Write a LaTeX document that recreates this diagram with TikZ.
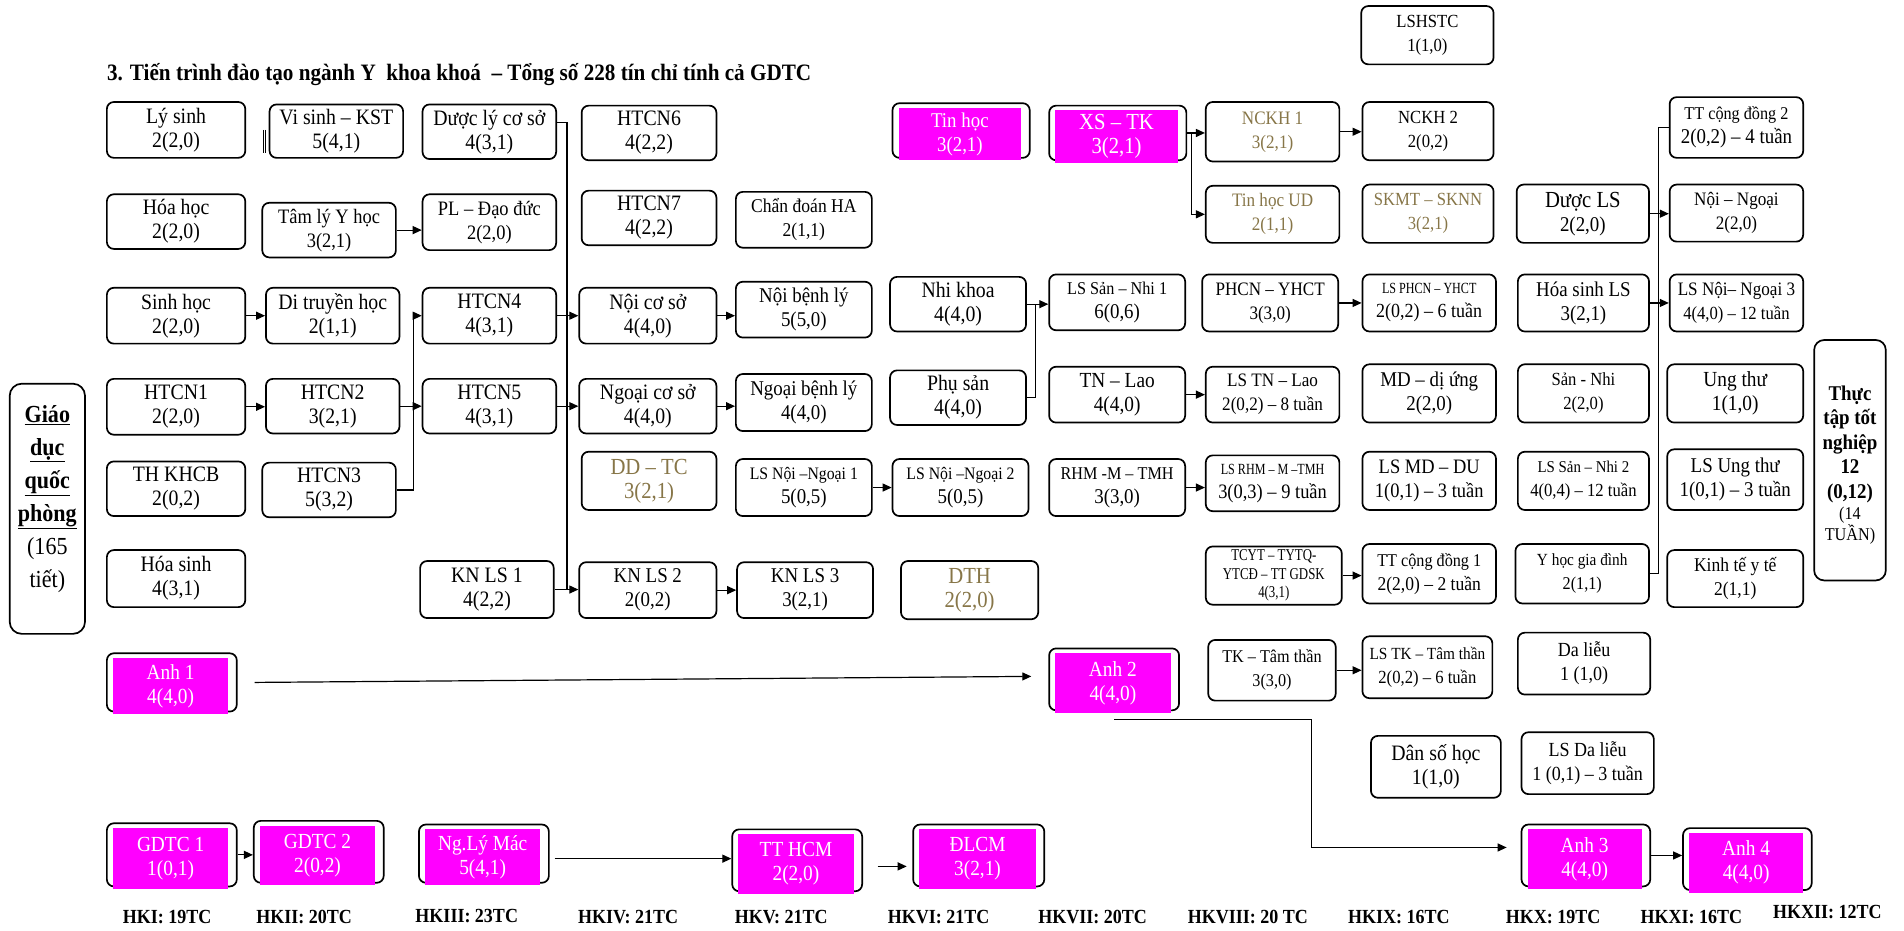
\documentclass[tikz,border=0pt]{standalone}
\usepackage{fontspec}
\setmainfont{Liberation Serif}[FakeStretch=0.9]
\newfontfamily\nf{Liberation Serif}[FakeStretch=0.78]
\usetikzlibrary{arrows.meta,calc}
\definecolor{mag}{RGB}{255,0,255}
\definecolor{olv}{RGB}{135,118,72}
\newcommand\fz[1]{\fontsize{#1}{#1}\selectfont}
\newcommand\bx[7][]{\node[box,#1,minimum width={(#5-#3)*1.2143pt},minimum height={(#6-#4)*1.2143pt}] (#2) at ({(#3+#5)/2},{(#4+#6)/2}) {#7};}
\newcommand\mbx[7][]{%
  \node[box,minimum width={(#5-#3)*1.2143pt},minimum height={(#6-#4)*1.2143pt}] (#2) at ({(#3+#5)/2},{(#4+#6)/2}) {};
  \fill[mag] (#3+5,#4+4) rectangle (#5-7,#6+2);
  \node[mtxt,#1] (#2t) at ({(#3+#5-2)/2},{(#4+#6+6)/2}) {#7};}
\begin{document}
\begin{tikzpicture}[x=1.2143pt,y=-1.2143pt,
  box/.style={draw, line width=1.7pt, rounded corners=7pt, inner sep=0pt, align=center, font=\fontsize{22}{24}\selectfont},
  fs/.style={font=\fontsize{#1}{24}\selectfont},
  mtxt/.style={inner sep=0pt, align=center, text=white, font=\fontsize{21.5}{24}\selectfont},
  arr/.style={line width=1.2pt, -{Triangle[length=9pt,width=8pt]}},
  ln/.style={line width=1.2pt},
  hk/.style={font=\bfseries\fontsize{20}{22}\selectfont, inner sep=0pt, anchor=west},
]
\fill[white] (0,0) rectangle (1568,766);
\useasboundingbox (0,0) rectangle (1568,766);

\node[anchor=west, inner sep=0pt, font=\bfseries\fontsize{23.5}{26}\selectfont] (title) at (88,61)
  {3. Tiến trình đào tạo ngành Y\ \ khoa khoá\ \ – Tổng số 228 tín chỉ tính cả GDTC};

% column 1
\bx{lysinh}{88}{84}{202}{130}{Lý sinh\\2(2,0)}
\bx{hoahoc}{88}{160}{202}{205}{Hóa học\\2(2,0)}
\bx{sinhhoc}{88}{237}{202}{283}{Sinh học\\2(2,0)}
\bx{htcn1}{88}{312}{202}{358}{HTCN1\\2(2,0)}
\bx{thkhcb}{88}{380}{202}{425}{TH KHCB\\2(0,2)}
\bx{hoasinh}{88}{453}{202}{500}{Hóa sinh\\4(3,1)}
\mbx{anh1}{88}{538}{195}{586}{Anh 1\\4(4,0)}
\mbx{gdtc1}{88}{678}{195}{730}{GDTC 1\\1(0,1)}

\node[box, rounded corners=12pt, minimum width={62*1.2143pt}, minimum height={206*1.2143pt}] (gdqp) at (39,419) {};
\node[inner sep=0pt, align=center, font=\bfseries\fontsize{24.5}{33}\selectfont] (gdqpt) at (39,411)
  {\underline{Giáo}\\\underline{dục}\\\underline{quốc}\\\underline{phòng}\\{\mdseries(165}\\{\mdseries tiết)}};

% column 2
\draw[line width=0.8pt] (216.8,107) -- (216.8,126);
\draw[line width=0.8pt] (218.6,107) -- (218.6,126);
\bx{visinh}{222}{86}{332}{130}{Vi sinh – KST\\5(4,1)}
\bx[fs=20.5]{tamly}{216}{167}{326}{212}{Tâm lý Y học\\3(2,1)}
\bx{ditruyen}{219}{237}{329}{283}{Di truyền học\\2(1,1)}
\bx{htcn2}{219}{312}{329}{357}{HTCN2\\3(2,1)}
\bx{htcn3}{216}{381}{326}{426}{HTCN3\\5(3,2)}
\mbx{gdtc2}{209}{676}{316}{727}{GDTC 2\\2(0,2)}

% column 3
\bx{dlcs}{348}{86}{458}{131}{Dược lý cơ sở\\4(3,1)}
\bx[fs=20.5]{pldd}{348}{160}{458}{206}{PL – Đạo đức\\2(2,0)}
\bx{htcn4}{348}{237}{458}{283}{HTCN4\\4(3,1)}
\bx{htcn5}{348}{312}{458}{357}{HTCN5\\4(3,1)}
\bx{knls1}{346}{462}{456}{509}{KN LS 1\\4(2,2)}
\mbx{nglymac}{345}{679}{452}{727}{Ng.Lý Mác\\5(4,1)}

% column 4
\bx{htcn6}{479}{87}{590}{132}{HTCN6\\4(2,2)}
\bx{htcn7}{479}{157}{590}{202}{HTCN7\\4(2,2)}
\bx{noics}{477}{237}{590}{283}{Nội cơ sở\\4(4,0)}
\bx{ngoaics}{477}{312}{590}{357}{Ngoại cơ sở\\4(4,0)}
\bx[text=olv,fs=23]{ddtc}{479}{372}{590}{420}{DD – TC\\3(2,1)}
\bx[fs=21]{knls2}{477}{463}{590}{509}{KN LS 2\\2(0,2)}

% column 5
\bx[fs=19.5]{cdha}{606}{158}{718}{204}{Chẩn đoán HA\\2(1,1)}
\bx[fs=21]{noibl}{606}{232}{718}{278}{Nội bệnh lý\\5(5,0)}
\bx[fs=21]{ngoaibl}{606}{308}{718}{355}{Ngoại bệnh lý\\4(4,0)}
\bx[fs=21]{lsnn1}{606}{378}{718}{425}{{\fz{17.5}LS Nội –Ngoại 1}\\5(0,5)}
\bx[fs=21]{knls3}{607}{463}{719}{509}{KN LS 3\\3(2,1)}
\mbx{tthcm}{603}{683}{710}{734}{TT HCM\\2(2,0)}

% column 6
\mbx[font=\fontsize{21}{24}\selectfont]{tinhoc}{735}{85}{848}{130}{Tin học\\3(2,1)}
\bx{nhikhoa}{733}{228}{845}{273}{Nhi khoa\\4(4,0)}
\bx{phusan}{733}{305}{845}{350}{Phụ sản\\4(4,0)}
\bx[fs=21]{lsnn2}{735}{378}{847}{425}{{\fz{17.5}LS Nội –Ngoại 2}\\5(0,5)}
\bx[text=olv,fs=23]{dth}{742}{462}{855}{510}{DTH\\2(2,0)}
\mbx{dlcm}{752}{679}{860}{730}{ĐLCM\\3(2,1)}

% column 7
\mbx[font=\fontsize{23}{24}\selectfont]{xstk}{864}{87}{977}{132}{XS – TK\\3(2,1)}
\bx[fs=21]{lssn1}{864}{226}{976}{272}{{\fz{18}LS Sản – Nhi 1}\\6(0,6)}
\bx[fs=21.5]{tnlao}{864}{302}{976}{348}{TN – Lao\\4(4,0)}
\bx[fs=21]{rhm}{864}{378}{976}{425}{{\fz{18}RHM -M – TMH}\\3(3,0)}
\mbx{anh2}{864}{534}{971}{585}{Anh 2\\4(4,0)}

% column 8
\bx[text=olv,fs=19]{nckh1}{993}{84}{1103}{133}{NCKH 1\\3(2,1)}
\bx[text=olv,fs=19]{thud}{993}{153}{1103}{200}{Tin học UD\\2(1,1)}
\bx[fs=19]{phcn}{990}{226}{1102}{273}{PHCN – YHCT\\3(3,0)}
\bx[fs=19]{lstnlao}{993}{302}{1103}{348}{LS TN – Lao\\2(0,2) – 8 tuần}
\bx{lsrhm}{993}{375}{1103}{421}{{\nf\fz{15.5}LS RHM – M –TMH}\\{\fz{20.5}3(0,3) – 9 tuần}}
\bx[font={\nf\fontsize{16.5}{18.5}\selectfont}]{tcyt}{993}{450}{1105}{498}{TCYT – TYTQ-\\YTCĐ – TT GDSK\\4(3,1)}
\bx[fs=18]{tktt}{995}{527}{1100}{577}{TK – Tâm thần\\3(3,0)}

% column 9
\bx[fs=18.5]{lshstc}{1121}{5}{1230}{53}{LSHSTC\\1(1,0)}
\bx[fs=18.5]{nckh2}{1122}{84}{1230}{132}{NCKH 2\\2(0,2)}
\bx[text=olv,fs=18.5]{skmt}{1122}{152}{1230}{200}{SKMT – SKNN\\3(2,1)}
\bx{lsphcn}{1122}{226}{1232}{273}{{\nf\fz{15.5}LS PHCN – YHCT}\\{\fz{20}2(0,2) – 6 tuần}}
\bx[fs=21]{mddu}{1122}{300}{1232}{348}{MD – dị ứng\\2(2,0)}
\bx[fs=20.5]{lsmddu}{1122}{372}{1232}{420}{LS MD – DU\\1(0,1) – 3 tuần}
\bx{ttcd1}{1122}{448}{1232}{497}{{\fz{18}TT cộng đồng 1}\\{\fz{19.5}2(2,0) – 2 tuần}}
\bx{lstk}{1122}{524}{1229}{575}{{\fz{17}LS TK – Tâm thần}\\{\fz{18.5}2(0,2) – 6 tuần}}
\bx{dsh}{1129}{606}{1236}{657}{Dân số học\\1(1,0)}

% column 10
\bx{duocls}{1249}{152}{1358}{200}{{\fz{23}Dược LS}\\{\fz{21}2(2,0)}}
\bx[fs=21]{hsls}{1250}{226}{1358}{273}{Hóa sinh LS\\3(2,1)}
\bx[fs=18.5]{sannhi}{1250}{300}{1358}{348}{Sản - Nhi\\2(2,0)}
\bx{lssn2}{1250}{372}{1358}{420}{{\fz{16.5}LS Sản – Nhi 2}\\{\fz{18.5}4(0,4) – 12 tuần}}
\bx{yhgd}{1248}{448}{1358}{497}{{\fz{17}Y học gia đình}\\{\fz{18}2(1,1)}}
\bx[fs=20]{dalieu}{1250}{521}{1359}{572}{Da liễu\\1 (1,0)}
\bx[fs=20]{lsdl}{1253}{603}{1362}{654}{LS Da liễu\\1 (0,1) – 3 tuần}
\mbx{anh3}{1253}{679}{1359}{730}{Anh 3\\4(4,0)}

% column 11
\bx{ttcd2}{1375}{80}{1485}{130}{{\fz{18}TT cộng đồng 2}\\{\fz{21}2(0,2) – 4 tuần}}
\bx[fs=19]{noingoai}{1375}{152}{1485}{199}{Nội – Ngoại\\2(2,0)}
\bx{lsnn3}{1375}{226}{1485}{273}{{\fz{19}LS Nội– Ngoại 3}\\{\fz{18.5}4(4,0) – 12 tuần}}
\bx[fs=21.5]{ungthu}{1373}{300}{1485}{348}{Ung thư\\1(1,0)}
\bx[fs=21]{lsut}{1373}{370}{1485}{420}{LS Ung thư\\1(0,1) – 3 tuần}
\bx[fs=19.5]{ktyt}{1373}{453}{1485}{500}{Kinh tế y tế\\2(1,1)}
\mbx{anh4}{1386}{682}{1492}{733}{Anh 4\\4(4,0)}

% column 12
\node[box, rounded corners=10pt, minimum width={59*1.2143pt}, minimum height={198*1.2143pt}] (tttn) at (1523.5,379) {};
\node[inner sep=0pt, align=center, font=\bfseries\fontsize{21}{24.5}\selectfont] (tttnt) at (1523.5,383)
  {Thực\\tập tốt\\nghiệp\\12\\(0,12)\\[-3pt]{\mdseries\fz{18}(14}\\[-4pt]{\mdseries\fz{18}TUẦN)}};

% semester labels
\node[hk] (hk1) at (101,755) {HKI: 19TC};
\node[hk] (hk2) at (211,755) {HKII: 20TC};
\node[hk] (hk3) at (342,754) {HKIII: 23TC};
\node[hk] (hk4) at (476,755) {HKIV: 21TC};
\node[hk] (hk5) at (605,755) {HKV: 21TC};
\node[hk] (hk6) at (731,755) {HKVI: 21TC};
\node[hk] (hk7) at (855,755) {HKVII: 20TC};
\node[hk] (hk8) at (978,755) {HKVIII: 20 TC};
\node[hk] (hk9) at (1110,755) {HKIX: 16TC};
\node[hk] (hk10) at (1240,755) {HKX: 19TC};
\node[hk] (hk11) at (1351,755) {HKXI: 16TC};
\node[hk] (hk12) at (1460,751) {HKXII: 12TC};

% connectors
\draw[arr] (tamly.east) -- (tamly.east -| pldd.west);
\draw[arr] (sinhhoc.east) -- (sinhhoc.east -| ditruyen.west);
\draw[arr] (htcn1.east) -- (htcn1.east -| htcn2.west);
\draw[arr] (htcn2.east) -- (htcn2.east -| htcn5.west);
\draw[arr] (htcn3.east) -- ++(14,0) |- (htcn4.west);

\coordinate (bus1) at (467,0);
\draw[ln] ([yshift=9pt]dlcs.east) -| (bus1 |- knls1.east);
\draw[arr] (htcn4.east) -- (htcn4.east -| noics.west);
\draw[arr] (htcn5.east) -- (htcn5.east -| ngoaics.west);
\draw[arr] (knls1.east) -- (knls1.east -| knls2.west);

\draw[arr] (noics.east) -- (noics.east -| noibl.west);
\draw[arr] (ngoaics.east) -- (ngoaics.east -| ngoaibl.west);
\draw[arr] (lsnn1.east) -- (lsnn1.east -| lsnn2.west);
\draw[arr] (knls2.east) -- (knls2.east -| knls3.west);

\coordinate (bus2) at (853,0);
\draw[arr] (nhikhoa.east) -- (nhikhoa.east -| lssn1.west);
\draw[ln] (phusan.east) -| (bus2 |- nhikhoa.east);
\draw[arr] (tnlao.east) -- (tnlao.east -| lstnlao.west);
\draw[arr] (rhm.east) -- (rhm.east -| lsrhm.west);

\draw[arr] (xstk.east) -- (xstk.east -| nckh1.west);
\draw[arr] ([xshift=4pt]xstk.east) |- (thud.west);
\draw[arr] (nckh1.east) -- (nckh1.east -| nckh2.west);
\draw[arr] (phcn.east) -- (phcn.east -| lsphcn.west);
\draw[arr] (tcyt.east) -- (tcyt.east -| ttcd1.west);
\draw[arr] (tktt.east) -- (tktt.east -| lstk.west);

\coordinate (bus4) at (1366,0);
\draw[ln] (yhgd.east) -| (bus4 |- ttcd2.west) -- (ttcd2.west);
\draw[arr] (duocls.east) -- (duocls.east -| noingoai.west);
\draw[arr] (hsls.east) -- (hsls.east -| lsnn3.west);

\draw[arr] ([xshift=17pt]anh1.east) -- ([xshift=-17pt,yshift=3pt]anh2.west);
\coordinate (bus3) at (1080,0);
\coordinate (a3in) at ([yshift=8pt]anh3.west);
\draw[arr, shorten >=14pt] ([yshift=-8.5pt]anh2.south) -| (bus3 |- a3in) -- (a3in);
\draw[arr] (anh3.east) -- (anh3.east -| anh4.west);

\draw[arr] (gdtc1.east) -- (gdtc1.east -| gdtc2.west);
\draw[arr] ([xshift=5pt,yshift=-5pt]nglymac.east) -- ([yshift=-5pt]nglymac.east -| tthcm.west);
\draw[arr] ($(tthcm.east)+(12,5)$) -- ($(tthcm.east)+(36,5)$);
\end{tikzpicture}
\end{document}
